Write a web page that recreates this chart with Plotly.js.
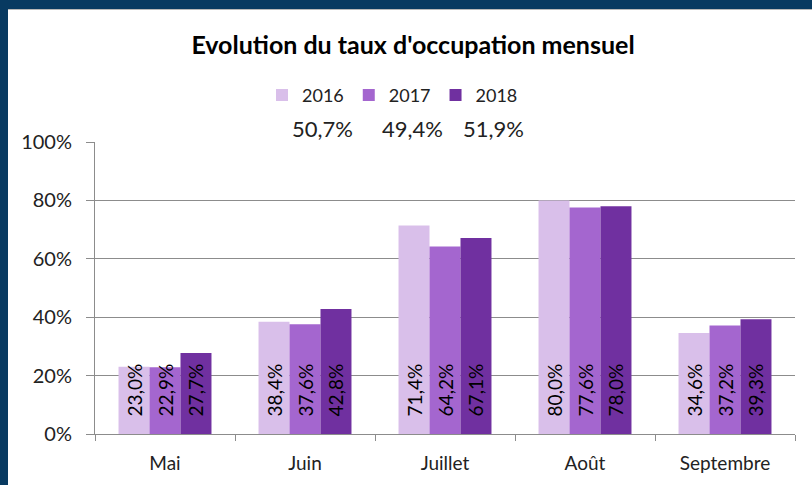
<!DOCTYPE html>
<html>
<head>
<meta charset="utf-8">
<script src="https://cdn.plot.ly/plotly-3.0.1.min.js"></script>
<style>
  html, body { margin: 0; padding: 0; background: #ffffff; }
  #wrap { position: relative; width: 812px; height: 485px; overflow: hidden; }
  #chart { position: absolute; left: 0; top: 0; width: 812px; height: 485px; }
  #bTop { position: absolute; left: 0; top: 0; width: 812px; height: 9px; background: #083a61; border-bottom: 1px solid #b8b8b8; }
  #bLeft { position: absolute; left: 0; top: 0; width: 8px; height: 485px; background: #083a61; }
</style>
</head>
<body>
<div id="wrap">
  <div id="chart"></div>
  <div id="bTop"></div>
  <div id="bLeft"></div>
</div>
<script>
const months = ["Mai", "Juin", "Juillet", "Août", "Septembre"];
const years = ["2016", "2017", "2018"];
const v2016 = [0.230, 0.384, 0.714, 0.800, 0.346];
const v2017 = [0.229, 0.376, 0.642, 0.776, 0.372];
const v2018 = [0.277, 0.428, 0.671, 0.780, 0.393];
const averages = ["50,7%", "49,4%", "51,9%"];
const colors = ["#d9bfea", "#a466cf", "#7030a0"];
const titleText = "Evolution du taux d'occupation mensuel";

const FONT = "Lato, 'Open Sans', sans-serif";
const series = [v2016, v2017, v2018];

const traces = series.map((vals, i) => ({
  type: "bar",
  name: years[i],
  x: months,
  y: vals,
  marker: { color: colors[i], line: { width: 0 } },
  texttemplate: "\u00a0\u00a0\u00a0%{y:.1%}",
  textposition: "inside",
  insidetextanchor: "start",
  textangle: -90,
  constraintext: "none",
  textfont: { family: FONT, size: 19, color: "#000000" },
  hoverinfo: "skip"
}));

const avgX = [322, 412, 493];
const annotations = averages.map((t, i) => ({
  text: t,
  xref: "paper", yref: "paper",
  x: (avgX[i] - 95) / 700,
  y: 1 + (141.7 - 128) / 292.3,
  xanchor: "center", yanchor: "middle",
  showarrow: false,
  font: { family: FONT, size: 22, color: "#222222" }
}));

const layout = {
  width: 812, height: 485,
  margin: { l: 95, r: 17, t: 141.7, b: 51, pad: 0 },
  paper_bgcolor: "#ffffff",
  plot_bgcolor: "#ffffff",
  separators: ",.",
  barmode: "group",
  bargap: 0.336,
  bargroupgap: 0,
  showlegend: true,
  title: {
    text: "<b>" + titleText + "</b>",
    font: { family: FONT, size: 25, color: "#000000" },
    x: 413 / 812, xanchor: "center",
    y: 1 - 45 / 485, yanchor: "middle"
  },
  legend: {
    orientation: "h",
    x: 0.425, xanchor: "center",
    y: 1 + (141.7 - 95) / 292.3, yanchor: "middle",
    font: { family: FONT, size: 18, color: "#222222" },
    itemwidth: 30,
    bgcolor: "rgba(0,0,0,0)"
  },
  xaxis: {
    type: "category",
    showline: true, linecolor: "#8c8c8c", linewidth: 1,
    ticks: "outside", tickson: "boundaries", ticklen: 6, tickcolor: "#8c8c8c",
    ticklabelstandoff: 12,
    showgrid: false,
    tickfont: { family: FONT, size: 19, color: "#222222" },
    fixedrange: true
  },
  yaxis: {
    range: [0, 1],
    dtick: 0.2,
    tickformat: ".0%",
    showline: true, linecolor: "#8c8c8c", linewidth: 1,
    ticks: "outside", ticklen: 8, tickcolor: "#8c8c8c",
    ticklabelstandoff: 10,
    showgrid: true, gridcolor: "#8c8c8c", gridwidth: 1,
    zeroline: false,
    tickfont: { family: FONT, size: 20, color: "#222222" },
    fixedrange: true
  },
  annotations: annotations
};

Plotly.newPlot("chart", traces, layout, { staticPlot: true, displayModeBar: false });
</script>
</body>
</html>
